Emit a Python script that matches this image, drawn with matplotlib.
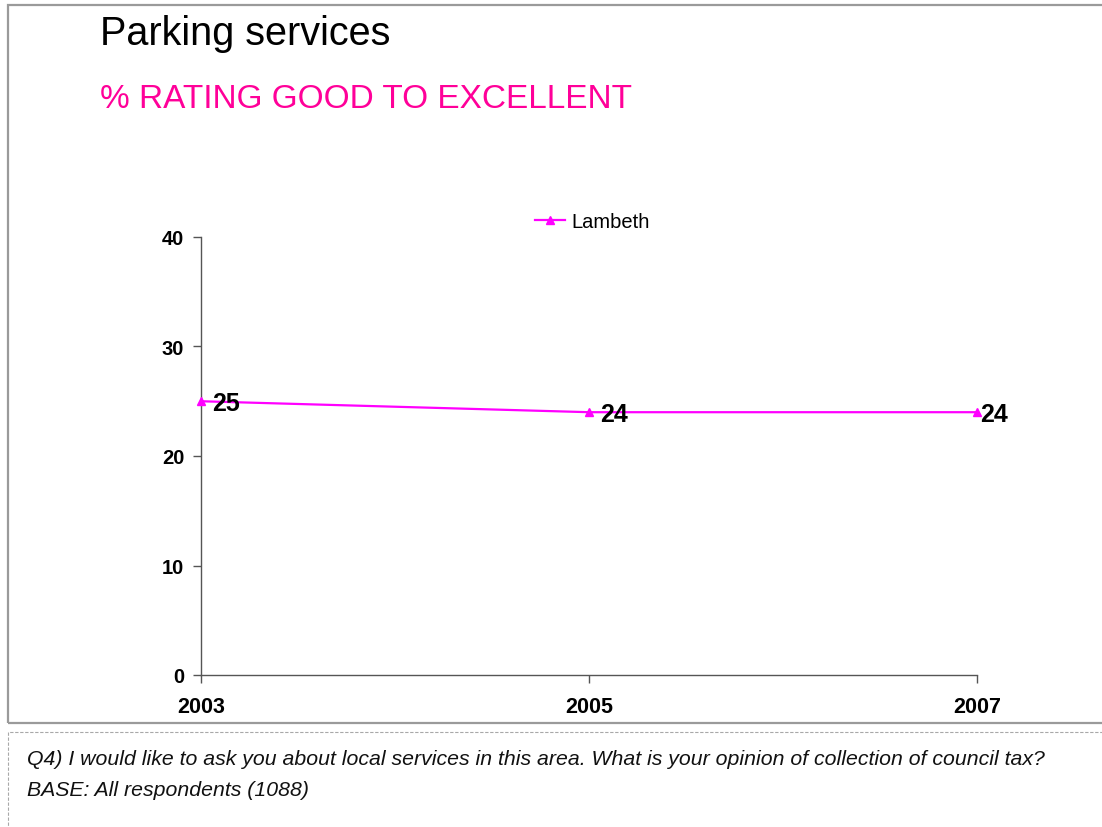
import matplotlib
matplotlib.use("Agg")
import matplotlib.pyplot as plt
from matplotlib.patches import Rectangle

plt.rcParams['font.family'] = ['Liberation Sans', 'DejaVu Sans']

# Survey results: % rating parking services good to excellent
years = [2003, 2005, 2007]
lambeth = [25, 24, 24]
series_name = "Lambeth"
y_ticks = [0, 10, 20, 30, 40]

title = "Parking services"
subtitle = "% RATING GOOD TO EXCELLENT"
footer_lines = [
    "Q4) I would like to ask you about local services in this area. What is your opinion of collection of council tax?",
    "BASE: All respondents (1088)",
]

W, H = 1102, 828
fig = plt.figure(figsize=(W / 100, H / 100), dpi=100)


def fx(px):
    return px / W


def fy(py):
    return 1 - py / H


# Panel frames
fig.patches.append(Rectangle((fx(8), fy(724)), fx(1110) - fx(8), fy(6) - fy(724),
                             transform=fig.transFigure, fill=False,
                             edgecolor="#9a9a9a", linewidth=1.6, zorder=0))
fig.patches.append(Rectangle((fx(8), fy(840)), fx(1110) - fx(8), fy(733) - fy(840),
                             transform=fig.transFigure, fill=False,
                             edgecolor="#a8a8a8", linewidth=0.8,
                             linestyle=(0, (3, 1.5)), zorder=0))

fig.text(fx(100), fy(34), title, fontsize=28.5, ha="left", va="center", color="black")
fig.text(fx(100), fy(99), subtitle, fontsize=24, ha="left", va="center", color="#FF0099")

ax = fig.add_axes([fx(201), fy(676), fx(977) - fx(201), fy(238) - fy(676)])
line_color = "#FF00FF"
ax.plot(years, lambeth, color=line_color, linewidth=1.6, marker="^",
        markersize=5.5, label=series_name, clip_on=False, zorder=3)

# Value labels to the right of each point; the last one sits closer to its point
label_offsets = [8, 8, 2.5]
for x, v, dx in zip(years, lambeth, label_offsets):
    ax.annotate(f"{v}", (x, v), xytext=(dx, -1.5), textcoords="offset points",
                ha="left", va="center", fontsize=18, fontweight="bold", color="black")

ax.set_xlim(years[0], years[-1])
ax.set_ylim(y_ticks[0], y_ticks[-1])
ax.set_yticks(y_ticks)
ax.set_xticks(years)
ax.set_xticklabels([str(y) for y in years])
for s in ("top", "right"):
    ax.spines[s].set_visible(False)
for s in ("left", "bottom"):
    ax.spines[s].set_color("#555555")
    ax.spines[s].set_linewidth(1.0)
ax.tick_params(axis="both", direction="out", length=6, width=1.0, color="#555555",
               labelsize=14.5)
ax.tick_params(axis="y", pad=6)
ax.tick_params(axis="x", pad=9)
for lab in ax.get_xticklabels() + ax.get_yticklabels():
    lab.set_fontweight("bold")
for lab in ax.get_xticklabels():
    lab.set_fontsize(15.5)

fig.legend(loc="center left", bbox_to_anchor=(fx(535), fy(223)), frameon=False,
           fontsize=14.5, handlelength=1.5, handletextpad=0.3, borderpad=0, borderaxespad=0)

fig.text(fx(27), fy(760), footer_lines[0], fontsize=15.3, style="italic",
         ha="left", va="center", color="#111111")
fig.text(fx(27), fy(791), footer_lines[1], fontsize=15.3, style="italic",
         ha="left", va="center", color="#111111")

fig.savefig("out.png", dpi=100, facecolor="white")
